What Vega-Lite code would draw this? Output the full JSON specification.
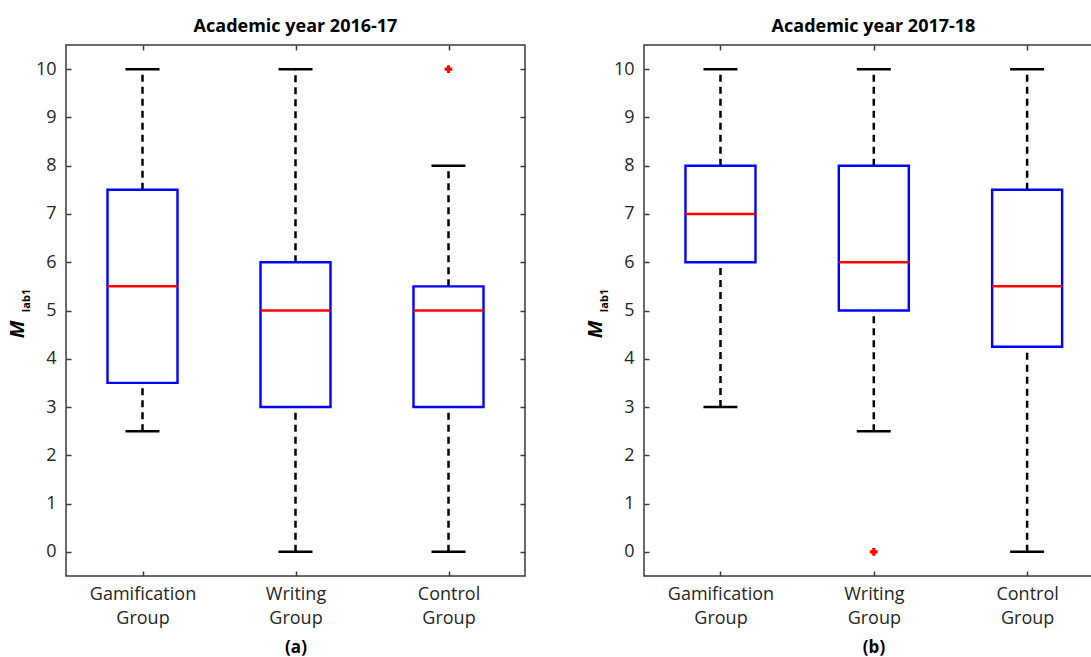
{
  "$schema": "https://vega.github.io/schema/vega-lite/v6.json",
  "background": "white",
  "padding": {"left": 6, "top": 17, "right": 0, "bottom": 0},
  "datasets": {
    "boxes": [
      {"year": "2016-17", "group": "Gamification Group", "lower": 2.5, "q1": 3.5, "median": 5.5, "q3": 7.5, "upper": 10},
      {"year": "2016-17", "group": "Writing Group", "lower": 0, "q1": 3, "median": 5, "q3": 6, "upper": 10},
      {"year": "2016-17", "group": "Control Group", "lower": 0, "q1": 3, "median": 5, "q3": 5.5, "upper": 8},
      {"year": "2017-18", "group": "Gamification Group", "lower": 3, "q1": 6, "median": 7, "q3": 8, "upper": 10},
      {"year": "2017-18", "group": "Writing Group", "lower": 2.5, "q1": 5, "median": 6, "q3": 8, "upper": 10},
      {"year": "2017-18", "group": "Control Group", "lower": 0, "q1": 4.25, "median": 5.5, "q3": 7.5, "upper": 10}
    ],
    "outliers": [
      {"year": "2016-17", "group": "Control Group", "value": 10},
      {"year": "2017-18", "group": "Writing Group", "value": 0}
    ]
  },
  "spacing": 57,
  "hconcat": [
    {
      "width": 459,
      "height": 531,
      "title": {"text": "Academic year 2016-17"},
      "data": {"name": "boxes"},
      "transform": [{"filter": "datum.year === '2016-17'"}],
      "encoding": {
        "x": {"field": "group", "type": "nominal", "sort": ["Gamification Group", "Writing Group", "Control Group"], "scale": {"type": "point", "padding": 0.5}, "axis": null}
      },
      "resolve": {"axis": {"x": "independent", "y": "independent"}},
      "layer": [
        {
          "mark": {"type": "rule", "color": "black", "strokeWidth": 2.5, "strokeDash": [7, 5]},
          "encoding": {
            "x": {"field": "group", "type": "nominal", "sort": ["Gamification Group", "Writing Group", "Control Group"], "scale": {"type": "point", "padding": 0.5},
              "axis": {"orient": "bottom", "title": "(a)", "labelAngle": 0, "labelExpr": "split(datum.label, ' ')"}},
            "y": {"field": "lower", "type": "quantitative", "scale": {"domain": [-0.5, 10.5], "nice": false, "zero": false},
              "axis": {"orient": "left", "title": "M", "values": [0, 1, 2, 3, 4, 5, 6, 7, 8, 9, 10], "titleFontStyle": "italic", "titleFontSize": 20, "titleX": -48.5, "titleY": 284, "titleAlign": "center", "titleBaseline": "middle"}},
            "y2": {"field": "q1"}
          }
        },
        {
          "mark": {"type": "rule", "color": "black", "strokeWidth": 2.5, "strokeDash": [7, 5]},
          "encoding": {
            "y": {"field": "q3", "type": "quantitative", "scale": {"domain": [-0.5, 10.5], "nice": false, "zero": false}, "axis": null},
            "y2": {"field": "upper"}
          }
        },
        {
          "mark": {"type": "tick", "color": "black", "size": 34, "thickness": 2.5, "opacity": 1},
          "encoding": {
            "y": {"field": "lower", "type": "quantitative", "scale": {"domain": [-0.5, 10.5], "nice": false, "zero": false}, "axis": null}
          }
        },
        {
          "mark": {"type": "tick", "color": "black", "size": 34, "thickness": 2.5, "opacity": 1},
          "encoding": {
            "y": {"field": "upper", "type": "quantitative", "scale": {"domain": [-0.5, 10.5], "nice": false, "zero": false}, "axis": null}
          }
        },
        {
          "mark": {"type": "bar", "size": 70, "fill": "white", "fillOpacity": 0, "stroke": "#0000ff", "strokeWidth": 2.4},
          "encoding": {
            "y": {"field": "q1", "type": "quantitative", "scale": {"domain": [-0.5, 10.5], "nice": false, "zero": false}, "axis": null},
            "y2": {"field": "q3"}
          }
        },
        {
          "mark": {"type": "tick", "color": "#ff0000", "size": 70, "thickness": 2.5, "opacity": 1},
          "encoding": {
            "y": {"field": "median", "type": "quantitative", "scale": {"domain": [-0.5, 10.5], "nice": false, "zero": false}, "axis": null}
          }
        },
        {
          "data": {"name": "outliers"},
          "transform": [{"filter": "datum.year === '2016-17'"}],
          "mark": {"type": "point", "shape": "cross", "filled": true, "color": "#ff0000", "size": 60, "opacity": 1},
          "encoding": {
            "y": {"field": "value", "type": "quantitative", "scale": {"domain": [-0.5, 10.5], "nice": false, "zero": false}, "axis": null}
          }
        },
        {
          "mark": {"type": "tick", "opacity": 0},
          "encoding": {
            "x": {"field": "group", "type": "nominal", "sort": ["Gamification Group", "Writing Group", "Control Group"], "scale": {"type": "point", "padding": 0.5},
              "axis": {"orient": "top", "labels": false, "title": null}},
            "y": {"field": "median", "type": "quantitative", "scale": {"domain": [-0.5, 10.5], "nice": false, "zero": false},
              "axis": {"orient": "right", "labels": false, "title": null, "values": [0, 1, 2, 3, 4, 5, 6, 7, 8, 9, 10]}}
          }
        },
        {
          "mark": {"type": "tick", "opacity": 0},
          "encoding": {
            "y": {"field": "median", "type": "quantitative", "scale": {"domain": [-0.5, 10.5], "nice": false, "zero": false},
              "axis": {"orient": "left", "offset": 0, "labels": false, "ticks": false, "title": "lab1", "titleFontSize": 11, "titleX": -40, "titleY": 255, "titleAlign": "center", "titleBaseline": "middle"}}
          }
        }
      ]
    },
    {
      "width": 448,
      "height": 531,
      "title": {"text": "Academic year 2017-18", "dx": 5.5},
      "data": {"name": "boxes"},
      "transform": [{"filter": "datum.year === '2017-18'"}],
      "encoding": {
        "x": {"field": "group", "type": "nominal", "sort": ["Gamification Group", "Writing Group", "Control Group"], "scale": {"type": "point", "padding": 0.461, "align": 0.541}, "axis": null}
      },
      "resolve": {"axis": {"x": "independent", "y": "independent"}},
      "layer": [
        {
          "mark": {"type": "rule", "color": "black", "strokeWidth": 2.5, "strokeDash": [7, 5]},
          "encoding": {
            "x": {"field": "group", "type": "nominal", "sort": ["Gamification Group", "Writing Group", "Control Group"], "scale": {"type": "point", "padding": 0.461, "align": 0.541},
              "axis": {"orient": "bottom", "title": "(b)", "titleX": 229.5, "titleAlign": "center", "labelAngle": 0, "labelExpr": "split(datum.label, ' ')"}},
            "y": {"field": "lower", "type": "quantitative", "scale": {"domain": [-0.5, 10.5], "nice": false, "zero": false},
              "axis": {"orient": "left", "title": "M", "values": [0, 1, 2, 3, 4, 5, 6, 7, 8, 9, 10], "titleFontStyle": "italic", "titleFontSize": 20, "titleX": -48.5, "titleY": 284, "titleAlign": "center", "titleBaseline": "middle"}},
            "y2": {"field": "q1"}
          }
        },
        {
          "mark": {"type": "rule", "color": "black", "strokeWidth": 2.5, "strokeDash": [7, 5]},
          "encoding": {
            "y": {"field": "q3", "type": "quantitative", "scale": {"domain": [-0.5, 10.5], "nice": false, "zero": false}, "axis": null},
            "y2": {"field": "upper"}
          }
        },
        {
          "mark": {"type": "tick", "color": "black", "size": 34, "thickness": 2.5, "opacity": 1},
          "encoding": {
            "y": {"field": "lower", "type": "quantitative", "scale": {"domain": [-0.5, 10.5], "nice": false, "zero": false}, "axis": null}
          }
        },
        {
          "mark": {"type": "tick", "color": "black", "size": 34, "thickness": 2.5, "opacity": 1},
          "encoding": {
            "y": {"field": "upper", "type": "quantitative", "scale": {"domain": [-0.5, 10.5], "nice": false, "zero": false}, "axis": null}
          }
        },
        {
          "mark": {"type": "bar", "size": 70, "fill": "white", "fillOpacity": 0, "stroke": "#0000ff", "strokeWidth": 2.4},
          "encoding": {
            "y": {"field": "q1", "type": "quantitative", "scale": {"domain": [-0.5, 10.5], "nice": false, "zero": false}, "axis": null},
            "y2": {"field": "q3"}
          }
        },
        {
          "mark": {"type": "tick", "color": "#ff0000", "size": 70, "thickness": 2.5, "opacity": 1},
          "encoding": {
            "y": {"field": "median", "type": "quantitative", "scale": {"domain": [-0.5, 10.5], "nice": false, "zero": false}, "axis": null}
          }
        },
        {
          "data": {"name": "outliers"},
          "transform": [{"filter": "datum.year === '2017-18'"}],
          "mark": {"type": "point", "shape": "cross", "filled": true, "color": "#ff0000", "size": 60, "opacity": 1},
          "encoding": {
            "y": {"field": "value", "type": "quantitative", "scale": {"domain": [-0.5, 10.5], "nice": false, "zero": false}, "axis": null}
          }
        },
        {
          "mark": {"type": "tick", "opacity": 0},
          "encoding": {
            "x": {"field": "group", "type": "nominal", "sort": ["Gamification Group", "Writing Group", "Control Group"], "scale": {"type": "point", "padding": 0.461, "align": 0.541},
              "axis": {"orient": "top", "labels": false, "title": null}}
          }
        },
        {
          "mark": {"type": "tick", "opacity": 0},
          "encoding": {
            "y": {"field": "median", "type": "quantitative", "scale": {"domain": [-0.5, 10.5], "nice": false, "zero": false},
              "axis": {"orient": "left", "offset": 0, "labels": false, "ticks": false, "title": "lab1", "titleFontSize": 11, "titleX": -40, "titleY": 255, "titleAlign": "center", "titleBaseline": "middle"}}
          }
        }
      ]
    }
  ],
  "config": {
    "view": {"stroke": "#3a3a3a", "strokeWidth": 1.5},
    "axis": {
      "domain": false,
      "grid": false,
      "tickColor": "#3a3a3a",
      "tickSize": -5,
      "tickWidth": 1.5,
      "labelColor": "#262626",
      "labelFont": "Open Sans",
      "labelFontSize": 18,
      "labelLineHeight": 24,
      "titleFont": "Open Sans",
      "titleFontWeight": "bold",
      "titleColor": "black"
    },
    "axisX": {"titleFontSize": 17, "titlePadding": 12, "labelPadding": 14},
    "axisY": {"labelPadding": 15},
    "title": {"font": "Open Sans", "fontSize": 18, "fontWeight": "bold", "color": "black", "offset": 8}
  }
}
